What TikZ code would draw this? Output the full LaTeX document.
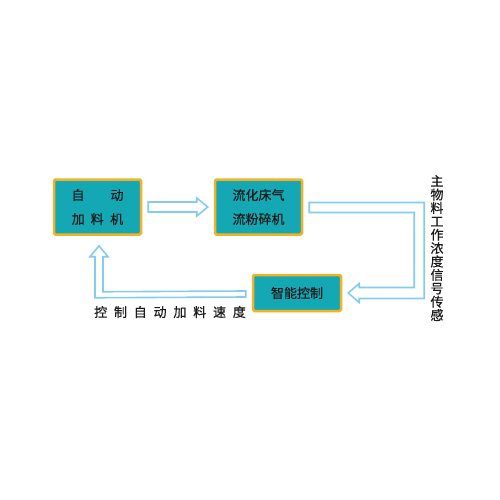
\documentclass[tikz,border=0pt]{standalone}
\usepackage{fontspec}
\newfontfamily\cjk[FakeBold=0.4]{Noto Sans CJK SC}
\usetikzlibrary{calc}
\definecolor{teal1}{HTML}{14A8B4}
\definecolor{orng}{HTML}{F3B125}
\definecolor{lblue}{HTML}{84CCEE}
\definecolor{txt}{HTML}{1A1A1A}
\tikzset{
  box/.style={draw=orng, fill=teal1, line width=2.5pt, rounded corners=1.5pt,
    text=txt, font=\cjk\fontsize{13}{24}\selectfont, align=center, inner sep=0pt},
  hollow/.style={draw=lblue, fill=white, line width=1.6pt, line join=miter},
  lbl/.style={text=txt, font=\cjk\fontsize{13}{13.4}\selectfont, inner sep=0pt, align=center}
}
\begin{document}
\begin{tikzpicture}[x=1pt,y=-1pt]
\useasboundingbox[fill=white] (0,0) rectangle (500,500);
\node[box, minimum width=87pt, minimum height=55pt] (b1) at (97.5,207) {自\hspace{26pt}动\\加\hspace{6pt}料\hspace{6.5pt}机};
\node[box, minimum width=87pt, minimum height=55pt] (b2) at (258.5,207) {流化床气\\流粉碎机};
\node[box, minimum width=88pt, minimum height=36pt] (b3) at (297,293) {智能控制};
% arrow 1: b1 -> b2
\draw[hollow] ($(b1.east)+(6,-5)$) -- ($(b2.west)+(-17,-5)$) -- ($(b2.west)+(-17,-9)$)
  -- ($(b2.west)+(-6,0)$) -- ($(b2.west)+(-17,9)$) -- ($(b2.west)+(-17,5)$)
  -- ($(b1.east)+(6,5)$) -- cycle;
% arrow 2: b2 -> b3
\coordinate (c2) at ($(b3.east)+(6,0)$);
\draw[hollow] ($(b2.east)+(6,-4.5)$) -- ($(b2.east)+(121,-4.5)$) -- ($(c2)+(76,5.5)$)
  -- ($(c2)+(11,5.5)$) -- ($(c2)+(11,9.5)$) -- (c2) -- ($(c2)+(11,-9.5)$)
  -- ($(c2)+(11,-5.5)$) -- ($(c2)+(66,-5.5)$) -- ($(b2.east)+(111,5.5)$)
  -- ($(b2.east)+(6,5.5)$) -- cycle;
% arrow 3: b3 -> b1
\coordinate (c3) at ($(b1.south)+(1.5,10)$);
\draw[hollow] ($(b3.west)+(-6,-2)$) -- ($(b3.west)+(-6,4)$) -- ($(c3)+(-4,52)$)
  -- ($(c3)+(-4,11)$) -- ($(c3)+(-9,11)$) -- (c3) -- ($(c3)+(9,11)$)
  -- ($(c3)+(4,11)$) -- ($(c3)+(4,46)$) -- cycle;
\node[lbl] (t1) at (170,312) {控\hspace{6.8pt}制\hspace{6.8pt}自\hspace{6.8pt}动\hspace{6.8pt}加\hspace{6.8pt}料\hspace{6.8pt}速\hspace{6.8pt}度};
\node[lbl, anchor=north] (t2) at (437,175) {主\\物\\料\\工\\作\\浓\\度\\信\\号\\传\\感};
\end{tikzpicture}
\end{document}
